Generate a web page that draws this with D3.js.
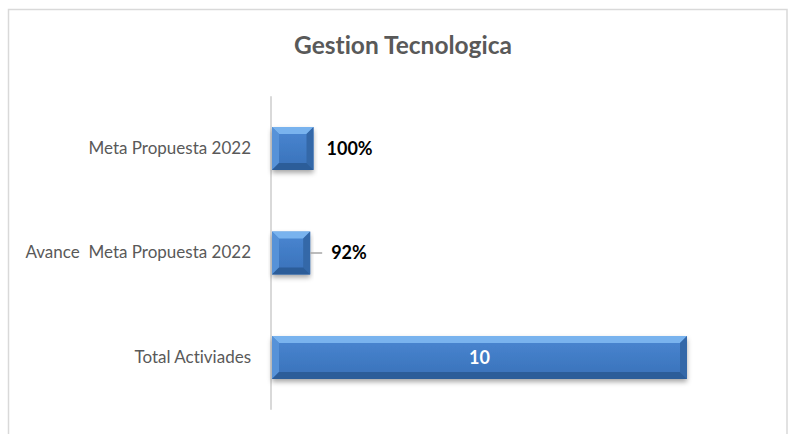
<!DOCTYPE html>
<html>
<head>
<meta charset="utf-8">
<script src="https://cdn.jsdelivr.net/npm/d3@7"></script>
<style>
  body { margin: 0; background: #fff; }
  svg { display: block; }
  text { white-space: pre; font-variant-ligatures: none; }
</style>
</head>
<body>
<div id="chart"></div>
<script>
// chart data
const categories = ['Meta Propuesta 2022', 'Avance  Meta Propuesta 2022', 'Total Activiades'];
const values = [1, 0.92, 10];
const valueLabels = ['100%', '92%', '10'];
const title = 'Gestion Tecnologica';

const width = 788;
const height = 434;
const font = 'Lato, "Open Sans", sans-serif';

const svg = d3.select('#chart').append('svg')
    .attr('width', width)
    .attr('height', height);

const defs = svg.append('defs');

// soft shadow under the bars
const shadow = defs.append('filter')
    .attr('id', 'shadow')
    .attr('x', '-10%').attr('y', '-20%')
    .attr('width', '120%').attr('height', '160%');
shadow.append('feDropShadow')
    .attr('dx', 0).attr('dy', 3)
    .attr('stdDeviation', 2.5)
    .attr('flood-color', '#000')
    .attr('flood-opacity', 0.35);

const grad = defs.append('linearGradient')
    .attr('id', 'barFill')
    .attr('x1', 0).attr('y1', 0).attr('x2', 0).attr('y2', 1);
grad.append('stop').attr('offset', '0%').attr('stop-color', '#4a87d2');
grad.append('stop').attr('offset', '100%').attr('stop-color', '#3971b9');

// frame of the chart area
svg.append('path')
    .attr('d', `M8.5,${height + 2}V9.5H${width - 1}V${height + 2}`)
    .attr('fill', 'none')
    .attr('stroke', '#d9d9d9')
    .attr('stroke-width', 1.5);

// title
svg.append('text')
    .attr('x', 403)
    .attr('y', 54)
    .attr('text-anchor', 'middle')
    .attr('font-family', font)
    .attr('font-weight', 'bold')
    .attr('font-size', 24.5)
    .attr('fill', '#595959')
    .text(title);

const x = d3.scaleLinear().domain([0, 10]).range([272, 687]);
const y = d3.scaleBand()
    .domain(categories)
    .range([96.25, 409.75])
    .paddingInner(0.59)
    .paddingOuter(0.295);

// category axis
const yAxis = svg.append('g')
    .attr('transform', `translate(${x(0) - 1},0)`)
    .call(d3.axisLeft(y).tickSize(0).tickPadding(20));
yAxis.select('.domain')
    .attr('stroke', '#d9d9d9')
    .attr('stroke-width', 2)
    .attr('d', `M0,${y.range()[0]}V${y.range()[1]}`);
yAxis.selectAll('text')
    .attr('font-family', font)
    .attr('font-size', 17)
    .attr('fill', '#595959');

const rows = svg.append('g')
    .selectAll('g')
    .data(categories.map((c, i) => ({ c, v: values[i], label: valueLabels[i] })))
    .join('g')
    .attr('transform', d => `translate(${x(0)},${y(d.c)})`);

const bh = y.bandwidth();

rows.append('rect')
    .attr('width', d => x(d.v) - x(0))
    .attr('height', bh)
    .attr('fill', 'url(#barFill)')
    .attr('filter', 'url(#shadow)');

// bevel edges
rows.each(function (d) {
    const g = d3.select(this);
    const w = x(d.v) - x(0);
    const b = Math.min(7, w / 4);
    const faces = [
        { p: [[0, 0], [w, 0], [w - b, b], [b, b]], c: '#79b3ee' },
        { p: [[0, 0], [b, b], [b, bh - b], [0, bh]], c: '#5692d8' },
        { p: [[w, 0], [w, bh], [w - b, bh - b], [w - b, b]], c: '#3468a8' },
        { p: [[0, bh], [b, bh - b], [w - b, bh - b], [w, bh]], c: '#2c5d99' }
    ];
    g.selectAll('path.bevel')
        .data(faces)
        .join('path')
        .attr('class', 'bevel')
        .attr('d', f => 'M' + f.p.join('L') + 'Z')
        .attr('fill', f => f.c);
});

// value labels
rows.each(function (d) {
    const g = d3.select(this);
    const w = x(d.v) - x(0);
    const inside = d.v >= 5;
    if (!inside && d.v < 1) {
        g.append('line')
            .attr('x1', w).attr('x2', w + 12)
            .attr('y1', bh / 2).attr('y2', bh / 2)
            .attr('stroke', '#a6a6a6')
            .attr('stroke-width', 1.5);
    }
    g.append('text')
        .attr('x', inside ? w / 2 : (d.v < 1 ? w + 21 : w + 13))
        .attr('y', bh / 2)
        .attr('dy', '0.35em')
        .attr('text-anchor', inside ? 'middle' : 'start')
        .attr('font-family', font)
        .attr('font-weight', 'bold')
        .attr('font-size', 18)
        .attr('fill', inside ? '#fff' : '#000')
        .text(d.label);
});
</script>
</body>
</html>
